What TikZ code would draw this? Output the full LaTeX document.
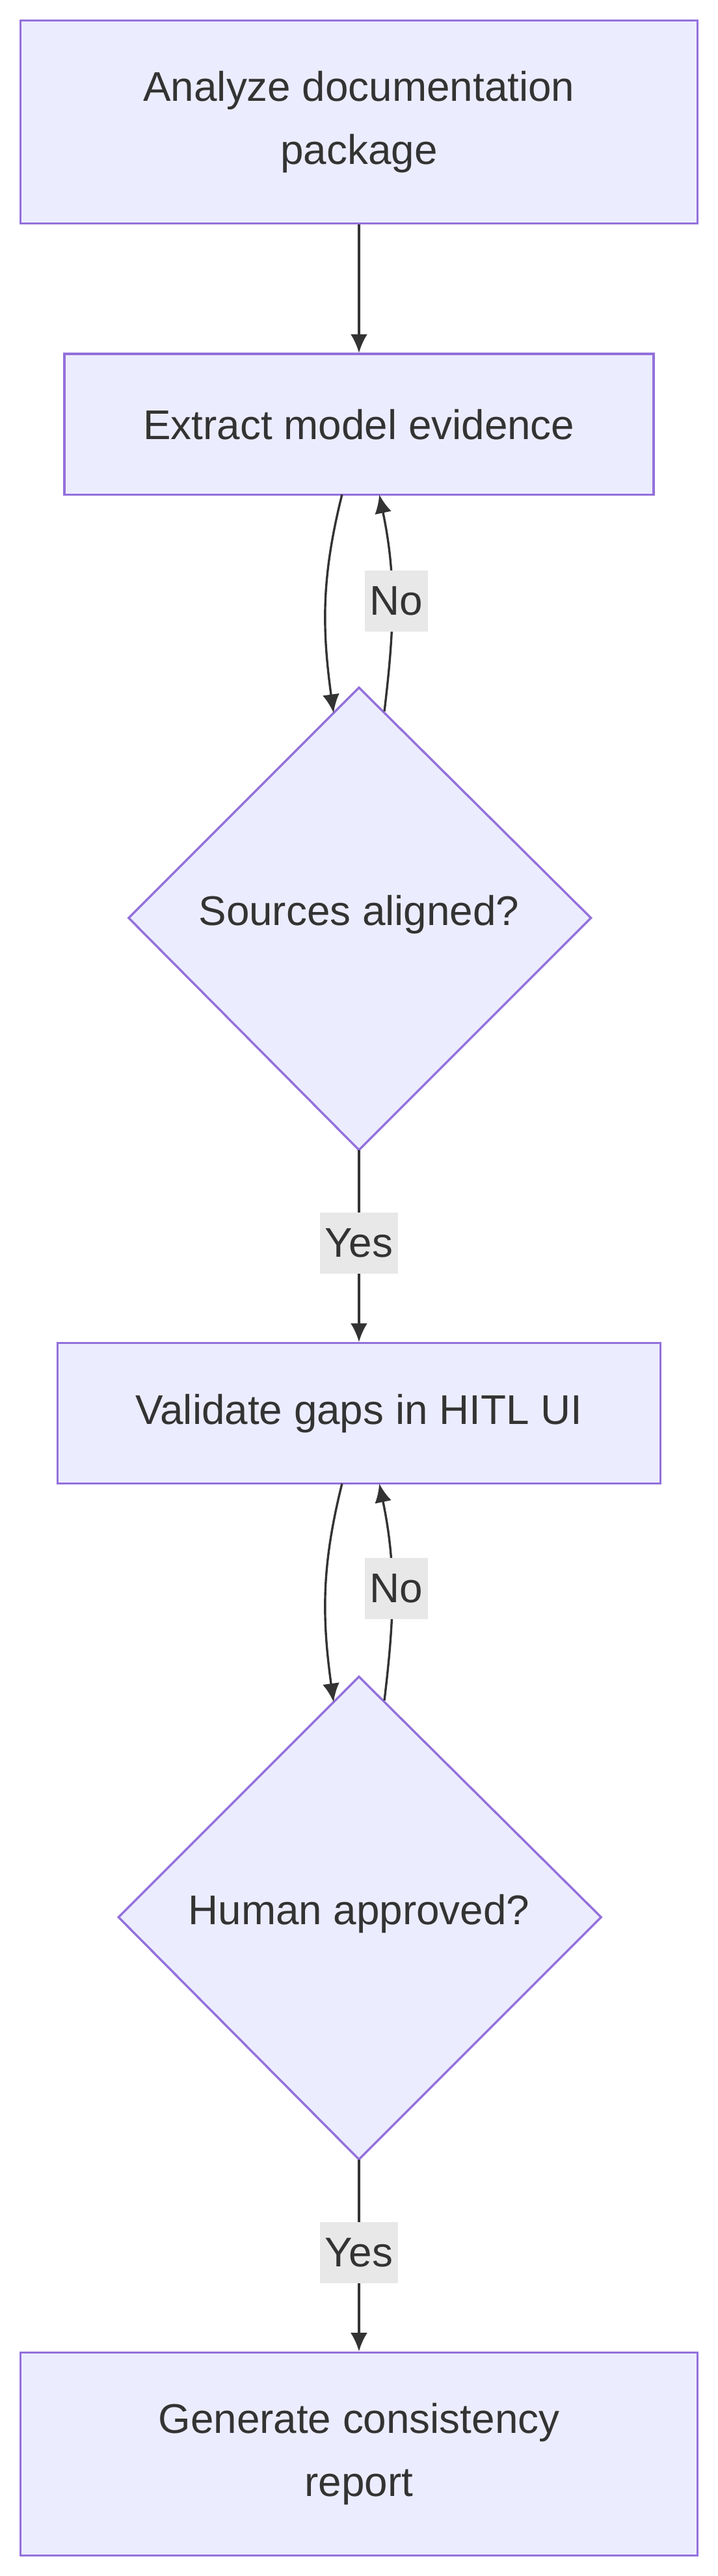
\documentclass[tikz,border=0pt]{standalone}
\usepackage{fontspec}
\setmainfont{Liberation Sans}
\usetikzlibrary{arrows.meta,shapes.geometric}
\definecolor{nfill}{HTML}{ECECFF}
\definecolor{nstroke}{HTML}{9370DB}
\definecolor{ink}{HTML}{333333}
\definecolor{lbl}{HTML}{E8E8E8}
\begin{document}
\begin{tikzpicture}[x=1pt,y=-1pt,
  box/.style={draw=nstroke,fill=nfill,line width=1.3pt,text=ink,align=center,font=\fontsize{24.5}{37}\selectfont},
  edge/.style={draw=ink,line width=1.3pt,-{Latex[length=11pt,width=10pt]}},
  elabel/.style={fill=lbl,text=ink,font=\fontsize{24.5}{30}\selectfont,inner sep=3pt,minimum height=36pt}]
\useasboundingbox (0,0) rectangle (424,1521);
\node[box,minimum width=400pt,minimum height=120pt] (b1) at (212,72) {Analyze documentation\\package};
\node[box,minimum width=348pt,minimum height=83pt] (b2) at (212,250.5) {Extract model evidence};
\path[draw=nstroke,fill=nfill,line width=1.3pt] (212,406)--(349,542)--(212,679)--(76,542)--cycle;
\node[text=ink,font=\fontsize{24.5}{30}\selectfont] (d1) at (212,540) {Sources aligned?};
\coordinate (d1t) at (212,406); \coordinate (d1b) at (212,679);
\node[box,minimum width=356pt,minimum height=83pt] (b3) at (212,834.5) {Validate gaps in HITL UI};
\path[draw=nstroke,fill=nfill,line width=1.3pt] (212,990)--(355,1132)--(212,1275)--(70,1132)--cycle;
\node[text=ink,font=\fontsize{24.5}{30}\selectfont] (d2) at (212,1130) {Human approved?};
\coordinate (d2t) at (212,990); \coordinate (d2b) at (212,1275);
\node[box,minimum width=400pt,minimum height=120pt] (b4) at (212,1449) {Generate consistency\\report};
% edges
\draw[edge] (b1.south) -- (b2.north);
\draw[edge] (202,292) .. controls (190,340) and (190,370) .. (197,421);
\draw[edge] (227,420) .. controls (233,370) and (234,340) .. (224,292);
\node[elabel] at (234,355) {No};
\draw[edge] (d1b) -- (b3.north);
\node[elabel] at (212,734) {Yes};
\draw[edge] (202,876) .. controls (190,924) and (190,954) .. (197,1005);
\draw[edge] (227,1004) .. controls (233,954) and (234,924) .. (224,876);
\node[elabel] at (234,938) {No};
\draw[edge] (d2b) -- (b4.north);
\node[elabel] at (212,1330) {Yes};
\end{tikzpicture}
\end{document}
